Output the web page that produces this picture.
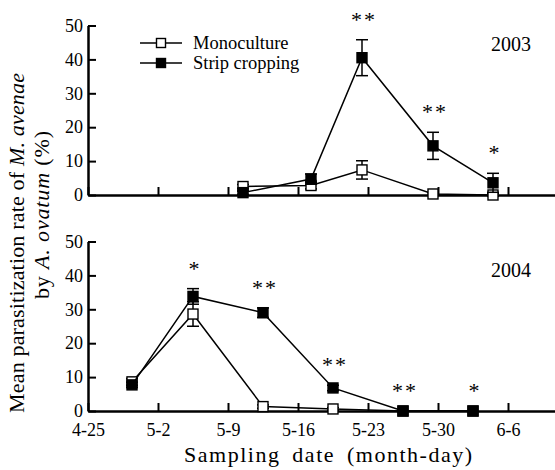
<!DOCTYPE html>
<html>
<head>
<meta charset="utf-8">
<script src="https://cdn.jsdelivr.net/npm/d3@7"></script>
<style>
  body { margin: 0; background: #fff; }
  svg { display: block; }
  svg text { font-family: "Liberation Serif", "Times New Roman", Times, serif !important; fill: #000; }
  .axis path, .axis line { stroke: #000; }
  .axis text { font-size: 18px; }
</style>
</head>
<body>
<div id="chart"></div>
<script>
const {select, scaleLinear, axisLeft, axisBottom, line} = d3;
const serif = '"Liberation Serif", "Times New Roman", Times, serif';

// days counted from 4-25
const tickDays = [0, 7, 14, 21, 28, 35, 42];
const tickLabels = ["4-25", "5-2", "5-9", "5-16", "5-23", "5-30", "6-6"];
const yTicks = [0, 10, 20, 30, 40, 50];

const dates2003 = [15.5, 22.3, 27.4, 34.5, 40.5];
const mono2003 = [2.5, 2.8, 7.4, 0.3, 0];
const monoErr2003 = [0.6, 1.0, 2.7, 0.4, 0.4];
const strip2003 = [0.7, 4.7, 40.5, 14.5, 3.6];
const stripErr2003 = [0.5, 1.5, 5.3, 4.0, 2.8];
const sig2003 = ["", "", "**", "**", "*"];

const dates2004 = [4.4, 10.5, 17.5, 24.5, 31.5, 38.5];
const mono2004 = [8.6, 28.6, 1.3, 0.6, 0, 0];
const monoErr2004 = [1.0, 3.6, 0.5, 0.4, 0, 0];
const strip2004 = [7.7, 33.8, 29.0, 6.8, 0, 0];
const stripErr2004 = [0.8, 2.3, 1.4, 0.8, 0, 0];
const sig2004 = ["", "*", "**", "**", "**", "*"];

const W = 555, H = 470;
const svg = select('#chart').append('svg')
    .attr('width', W)
    .attr('height', H)
    .attr('font-family', serif);

const x = scaleLinear().domain([0, 46.7]).range([88, 555]);

const panels = [
    {year: "2003", dates: dates2003, mono: mono2003, monoErr: monoErr2003,
     strip: strip2003, stripErr: stripErr2003, sig: sig2003,
     y0: 195, y50: 25.5, labels: false, yearY: 51},
    {year: "2004", dates: dates2004, mono: mono2004, monoErr: monoErr2004,
     strip: strip2004, stripErr: stripErr2004, sig: sig2004,
     y0: 411, y50: 241.5, labels: true, yearY: 277}
];

const sq = 10;

const drawSeries = (g, y, dates, vals, errs, filled) => {
    const pts = dates.map((d, i) => ({x: d, v: vals[i], e: errs[i]}));
    const ln = line().x(d => x(d.x)).y(d => y(d.v));

    g.append('path')
        .attr('d', ln(pts))
        .attr('fill', 'none')
        .attr('stroke', '#000')
        .attr('stroke-width', 1.5);

    const eb = g.selectAll(null).data(pts.filter(d => d.e > 0)).enter().append('g');
    eb.append('line')
        .attr('x1', d => x(d.x)).attr('x2', d => x(d.x))
        .attr('y1', d => y(d.v + d.e)).attr('y2', d => y(d.v - d.e))
        .attr('stroke', '#000').attr('stroke-width', 1.5);
    [1, -1].forEach(s => {
        eb.append('line')
            .attr('x1', d => x(d.x) - 6).attr('x2', d => x(d.x) + 6)
            .attr('y1', d => y(d.v + s * d.e)).attr('y2', d => y(d.v + s * d.e))
            .attr('stroke', '#000').attr('stroke-width', 1.5);
    });

    g.selectAll(null).data(pts).enter().append('rect')
        .attr('x', d => x(d.x) - sq / 2)
        .attr('y', d => y(d.v) - sq / 2)
        .attr('width', sq)
        .attr('height', sq)
        .attr('fill', filled ? '#000' : '#fff')
        .attr('stroke', '#000')
        .attr('stroke-width', 1.4);
};

panels.forEach(p => {
    const y = scaleLinear().domain([0, 50]).range([p.y0, p.y50]);
    const g = svg.append('g');

    const xAxis = axisBottom(x)
        .tickValues(tickDays)
        .tickSizeInner(-8)
        .tickSizeOuter(0)
        .tickPadding(12)
        .tickFormat((d, i) => p.labels ? tickLabels[i] : "");
    const xg = g.append('g').attr('class', 'axis')
        .attr('transform', `translate(0,${p.y0})`)
        .call(xAxis)
        .attr('font-family', serif)
        .attr('font-size', 18);
    xg.select('.domain').attr('stroke-width', 2.5);
    xg.selectAll('.tick line').attr('stroke-width', 2);

    const yAxis = axisLeft(y)
        .tickValues(yTicks)
        .tickSizeInner(-8)
        .tickSizeOuter(0)
        .tickPadding(5);
    const yg = g.append('g').attr('class', 'axis')
        .attr('transform', 'translate(88,0)')
        .call(yAxis)
        .attr('font-family', serif)
        .attr('font-size', 18);
    yg.select('.domain').attr('stroke-width', 2.5);
    yg.selectAll('.tick line').attr('stroke-width', 2);

    drawSeries(g, y, p.dates, p.mono, p.monoErr, false);
    drawSeries(g, y, p.dates, p.strip, p.stripErr, true);

    // significance marks above the higher error bar
    p.sig.forEach((s, i) => {
        if (!s) return;
        const top = Math.max(p.mono[i] + p.monoErr[i], p.strip[i] + p.stripErr[i]);
        g.append('text')
            .attr('x', x(p.dates[i]) + 2)
            .attr('y', y(top) - 24 + 11)
            .attr('text-anchor', 'middle')
            .attr('fill', '#333')
            .style('font-size', '22px')
            .style('letter-spacing', '2px')
            .text(s);
    });

    g.append('text')
        .attr('x', 531)
        .attr('y', p.yearY)
        .attr('text-anchor', 'end')
        .style('font-size', '20px')
        .text(p.year);
});

// legend
const legend = [
    {name: "Monoculture", filled: false, y: 43},
    {name: "Strip cropping", filled: true, y: 63}
];
const lg = svg.append('g');
legend.forEach(l => {
    lg.append('line')
        .attr('x1', 140).attr('x2', 182)
        .attr('y1', l.y).attr('y2', l.y)
        .attr('stroke', '#000').attr('stroke-width', 1.5);
    lg.append('rect')
        .attr('x', 161 - 4.5).attr('y', l.y - 4.5)
        .attr('width', 9).attr('height', 9)
        .attr('fill', l.filled ? '#000' : '#fff')
        .attr('stroke', '#000').attr('stroke-width', 1.4);
    lg.append('text')
        .attr('x', 193).attr('y', l.y + 6)
        .style('font-size', '18.5px')
        .text(l.name);
});

// axis titles
const yl1 = svg.append('text')
    .attr('transform', 'translate(24,243) rotate(-90)')
    .attr('text-anchor', 'middle')
    .attr('textLength', 340)
    .attr('lengthAdjust', 'spacing')
    .style('font-size', '22px');
yl1.append('tspan').text('Mean parasitization rate of ');
yl1.append('tspan').style('font-style', 'italic').text('M. avenae');

const yl2 = svg.append('text')
    .attr('transform', 'translate(49,215) rotate(-90)')
    .attr('text-anchor', 'middle')
    .attr('textLength', 168)
    .attr('lengthAdjust', 'spacing')
    .style('font-size', '22px');
yl2.append('tspan').text('by ');
yl2.append('tspan').style('font-style', 'italic').text('A. ovatum');
yl2.append('tspan').text(' (%)');

svg.append('text')
    .attr('x', 328)
    .attr('y', 462)
    .attr('text-anchor', 'middle')
    .attr('textLength', 288)
    .attr('lengthAdjust', 'spacing')
    .style('font-size', '22px')
    .style('word-spacing', '5px')
    .text('Sampling date (month-day)');
</script>
</body>
</html>
